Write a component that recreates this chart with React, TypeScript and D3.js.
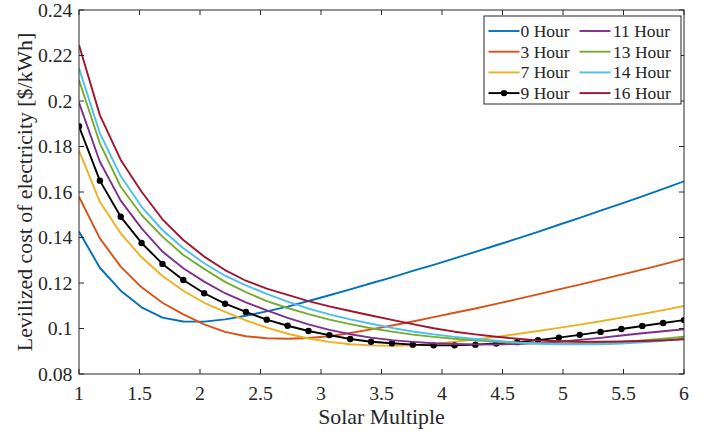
import React from "react";
import * as d3 from "d3";

const solarMultiple = [1, 1.1724, 1.3448, 1.5172, 1.6897, 1.8621, 2.0345, 2.2069, 2.3793, 2.5517, 2.7241, 2.8966, 3.069, 3.2414, 3.4138, 3.5862, 3.7586, 3.931, 4.1034, 4.2759, 4.4483, 4.6207, 4.7931, 4.9655, 5.1379, 5.3103, 5.4828, 5.6552, 5.8276, 6];

const hour0 = [0.1426, 0.1267, 0.1166, 0.1093, 0.1048, 0.1031, 0.103, 0.104, 0.1056, 0.1075, 0.1096, 0.1121, 0.1146, 0.1172, 0.1199, 0.1225, 0.1253, 0.128, 0.1308, 0.1337, 0.1366, 0.1395, 0.1425, 0.1456, 0.1486, 0.1518, 0.1549, 0.1581, 0.1614, 0.1647];
const hour3 = [0.1579, 0.1396, 0.1272, 0.1181, 0.1113, 0.1062, 0.1018, 0.0985, 0.0966, 0.0957, 0.0955, 0.0958, 0.0966, 0.098, 0.0996, 0.1013, 0.1031, 0.105, 0.1069, 0.1088, 0.1108, 0.1129, 0.115, 0.1172, 0.1193, 0.1215, 0.1237, 0.1259, 0.1282, 0.1306];
const hour7 = [0.1782, 0.1557, 0.1418, 0.1313, 0.1231, 0.1166, 0.1113, 0.1073, 0.1036, 0.1004, 0.0977, 0.0956, 0.0941, 0.0931, 0.0926, 0.0924, 0.0926, 0.0932, 0.0942, 0.0952, 0.0963, 0.0976, 0.0989, 0.1003, 0.1017, 0.1032, 0.1048, 0.1064, 0.1081, 0.1099];
const hour9 = [0.1889, 0.165, 0.1491, 0.1376, 0.1284, 0.1213, 0.1155, 0.1109, 0.1073, 0.1039, 0.1012, 0.0989, 0.0971, 0.0954, 0.0942, 0.0935, 0.0929, 0.0926, 0.0926, 0.0929, 0.0934, 0.094, 0.0949, 0.096, 0.0972, 0.0985, 0.0998, 0.1011, 0.1024, 0.1037];
const hour11 = [0.1993, 0.1733, 0.1562, 0.144, 0.1338, 0.1265, 0.1206, 0.1155, 0.1115, 0.108, 0.1047, 0.1018, 0.0994, 0.0975, 0.096, 0.0949, 0.0941, 0.0935, 0.0932, 0.093, 0.093, 0.0932, 0.0936, 0.0942, 0.095, 0.0959, 0.0969, 0.0979, 0.0988, 0.0997];
const hour13 = [0.2092, 0.1814, 0.1623, 0.1499, 0.1404, 0.1323, 0.1262, 0.1205, 0.116, 0.112, 0.109, 0.1063, 0.1039, 0.1019, 0.1001, 0.0986, 0.0973, 0.0963, 0.0955, 0.0948, 0.0942, 0.0937, 0.0934, 0.0933, 0.0934, 0.0937, 0.0941, 0.0947, 0.0955, 0.0964];
const hour14 = [0.2144, 0.1858, 0.167, 0.1535, 0.1433, 0.1353, 0.1287, 0.1232, 0.119, 0.1152, 0.1118, 0.1087, 0.1062, 0.104, 0.1021, 0.1003, 0.0987, 0.0974, 0.0963, 0.0954, 0.0946, 0.0939, 0.0934, 0.0931, 0.093, 0.0931, 0.0934, 0.0939, 0.0946, 0.0955];
const hour16 = [0.2246, 0.1938, 0.1741, 0.1601, 0.148, 0.1389, 0.1316, 0.1257, 0.121, 0.1175, 0.1148, 0.112, 0.1097, 0.1077, 0.1057, 0.1038, 0.1019, 0.1001, 0.0986, 0.0974, 0.0964, 0.0955, 0.0948, 0.0944, 0.0942, 0.0942, 0.0943, 0.0945, 0.0948, 0.0953];

const seriesNames = ["0 Hour", "3 Hour", "7 Hour", "9 Hour", "11 Hour", "13 Hour", "14 Hour", "16 Hour"];
const seriesValues = [hour0, hour3, hour7, hour9, hour11, hour13, hour14, hour16];
const seriesColors = ["#0072BD", "#D95319", "#EDB120", "#000000", "#7E2F8E", "#77AC30", "#4DBEEE", "#A2142F"];
const seriesMarkers = [false, false, false, true, false, false, false, false];

const xTicks = [1, 1.5, 2, 2.5, 3, 3.5, 4, 4.5, 5, 5.5, 6];
const xTickLabels = ["1", "1.5", "2", "2.5", "3", "3.5", "4", "4.5", "5", "5.5", "6"];
const yTicks = [0.08, 0.1, 0.12, 0.14, 0.16, 0.18, 0.2, 0.22, 0.24];
const yTickLabels = ["0.08", "0.1", "0.12", "0.14", "0.16", "0.18", "0.2", "0.22", "0.24"];

const W = 709;
const H = 431;
const L = 79, R = 684, T = 10, B = 374;
const axisColor = "#262626";
const font = "Liberation Serif, Times New Roman, Times, serif";

export default function App() {
  const x = d3.scaleLinear().domain([1, 6]).range([L, R]);
  const y = d3.scaleLinear().domain([0.08, 0.24]).range([B, T]);
  const line = d3
    .line<[number, number]>()
    .x((d) => x(d[0]))
    .y((d) => y(d[1]));

  const tickLen = 5;
  const legendX = 484, legendY = 16, legendW = 197, legendH = 88;
  const rowH = 20.7;
  const ts = { fontFamily: font };

  return (
    <svg width={W} height={H} style={{ position: "absolute", left: 0, top: 0, background: "#fff", fontFamily: font }}>
      <rect x={0} y={0} width={W} height={H} fill="#fff" />
      <defs>
        <clipPath id="plotclip">
          <rect x={L} y={T} width={R - L} height={B - T} />
        </clipPath>
      </defs>
      <g clipPath="url(#plotclip)">
        {seriesValues.map((vals, si) => {
          const pts = solarMultiple.map((sx, i) => [sx, vals[i]] as [number, number]);
          return (
            <g key={si}>
              <path d={line(pts) || ""} fill="none" stroke={seriesColors[si]} strokeWidth={1.9} strokeLinejoin="round" />
              {seriesMarkers[si] &&
                pts.map((p, i) => <circle key={i} cx={x(p[0])} cy={y(p[1])} r={3.2} fill={seriesColors[si]} />)}
            </g>
          );
        })}
      </g>
      <rect x={L} y={T} width={R - L} height={B - T} fill="none" stroke={axisColor} strokeWidth={1} />
      {xTicks.map((t, i) => (
        <g key={"xt" + i}>
          <line x1={x(t)} x2={x(t)} y1={B} y2={B - tickLen} stroke={axisColor} strokeWidth={1} />
          <line x1={x(t)} x2={x(t)} y1={T} y2={T + tickLen} stroke={axisColor} strokeWidth={1} />
          <text x={x(t)} y={B + 26} textAnchor="middle" fontSize={19.8} fill={axisColor} style={ts}>
            {xTickLabels[i]}
          </text>
        </g>
      ))}
      {yTicks.map((t, i) => (
        <g key={"yt" + i}>
          <line x1={L} x2={L + tickLen} y1={y(t)} y2={y(t)} stroke={axisColor} strokeWidth={1} />
          <line x1={R} x2={R - tickLen} y1={y(t)} y2={y(t)} stroke={axisColor} strokeWidth={1} />
          <text x={L - 6.5} y={y(t) + 6.6} textAnchor="end" fontSize={19.8} fill={axisColor} style={ts}>
            {yTickLabels[i]}
          </text>
        </g>
      ))}
      <text x={(L + R) / 2} y={424} textAnchor="middle" fontSize={21.8} fill={axisColor} style={ts}>
        Solar Multiple
      </text>
      <text
        transform={`translate(32, ${(T + B) / 2}) rotate(-90)`}
        textAnchor="middle"
        fontSize={21.8}
        fill={axisColor}
        style={ts}
      >
        Levilized cost of electricity [$/kWh]
      </text>
      <rect x={legendX} y={legendY} width={legendW} height={legendH} fill="#fff" stroke={axisColor} strokeWidth={1} />
      {seriesNames.map((name, si) => {
        const col = Math.floor(si / 4);
        const row = si % 4;
        const cy = 31 + row * rowH;
        const lx1 = col === 0 ? 488.5 : 579.5;
        const lx2 = lx1 + 31;
        const tx = col === 0 ? 520.5 : 613;
        return (
          <g key={"lg" + si}>
            <line x1={lx1} x2={lx2} y1={cy} y2={cy} stroke={seriesColors[si]} strokeWidth={1.9} />
            {seriesMarkers[si] && <circle cx={(lx1 + lx2) / 2} cy={cy} r={3.2} fill={seriesColors[si]} />}
            <text x={tx} y={cy + 6} fontSize={17.5} fill={axisColor} style={ts}>
              {name}
            </text>
          </g>
        );
      })}
    </svg>
  );
}
